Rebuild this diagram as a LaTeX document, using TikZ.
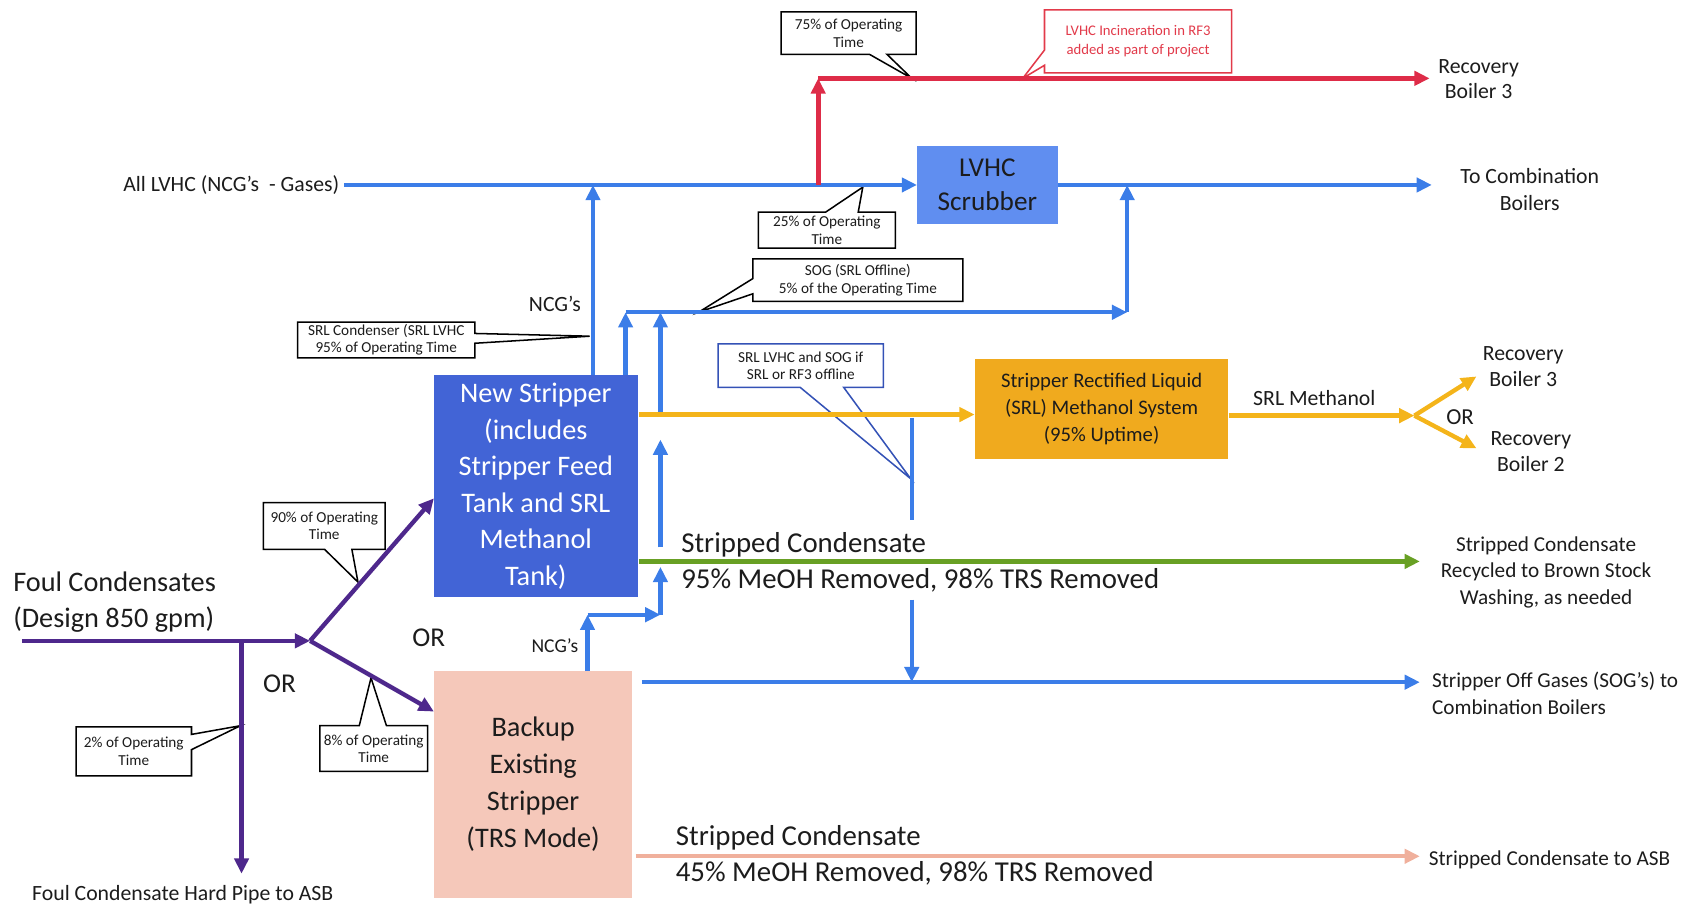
\documentclass[tikz,border=0pt]{standalone}
\usepackage{fontspec}
\setmainfont{Carlito}
\usetikzlibrary{arrows.meta,shapes.callouts,calc}

\definecolor{purp}{RGB}{78,40,140}
\definecolor{flowblue}{RGB}{59,125,232}
\definecolor{flowred}{RGB}{222,44,72}
\definecolor{flowgold}{RGB}{244,180,26}
\definecolor{flowgreen}{RGB}{104,160,36}
\definecolor{flowpink}{RGB}{240,176,156}
\definecolor{nsfill}{RGB}{66,100,214}
\definecolor{bkfill}{RGB}{245,200,186}
\definecolor{scrfill}{RGB}{96,142,240}
\definecolor{srlfill}{RGB}{240,170,30}
\definecolor{ink}{RGB}{28,28,28}
\definecolor{noteblue}{RGB}{52,82,182}
\definecolor{notered}{RGB}{226,58,74}

\begin{document}
\begin{tikzpicture}[x=1pt,y=-1pt,
  every node/.style={text=ink},
  tipA/.style={-{Triangle[length=14pt,width=13pt]}},
  pipeline/.style={line width=4pt},
  purpflow/.style={pipeline,draw=purp,tipA},
  blueflow/.style={pipeline,draw=flowblue,tipA},
  blueplain/.style={pipeline,draw=flowblue},
  redflow/.style={line width=4.5pt,draw=flowred,tipA},
  goldflow/.style={pipeline,draw=flowgold,tipA},
  greenflow/.style={pipeline,draw=flowgreen,tipA},
  pinkflow/.style={pipeline,draw=flowpink,tipA},
  procbox/.style={rectangle,inner sep=0pt,align=center},
  calloutbox/.style={rectangle callout,draw=black,fill=white,line width=1.4pt,
    align=center,inner sep=0pt,font=\fontsize{14}{16}\selectfont},
  lbl/.style={inner sep=0pt,align=center},
]
\path[use as bounding box] (0,0) rectangle (1568,833);

% ---------- process boxes ----------
\node[procbox,fill=nsfill,text=white,minimum width=187pt,minimum height=204pt,
  font=\fontsize{26}{33.5}\selectfont] (ns) at (492.5,447)
  {New Stripper\\(includes\\Stripper Feed\\Tank and SRL\\Methanol\\Tank)};
\node[procbox,fill=bkfill,minimum width=182pt,minimum height=208pt,
  font=\fontsize{26}{34}\selectfont] (bk) at (490,721)
  {Backup\\Existing\\Stripper\\(TRS Mode)};
\node[procbox,fill=scrfill,minimum width=129pt,minimum height=72pt,
  font=\fontsize{25}{31}\selectfont] (scr) at (907.5,170) {LVHC\\Scrubber};
\node[procbox,fill=srlfill,minimum width=233pt,minimum height=92pt,
  font=\fontsize{19}{25}\selectfont] (srl) at (1012.5,376)
  {Stripper Rectified Liquid\\(SRL) Methanol System\\(95\% Uptime)};

% ---------- callouts ----------
\node[calloutbox,minimum width=124pt,minimum height=39pt,
  callout absolute pointer={(838,72)},callout pointer width=16pt] (n75) at (780,30.5)
  {75\% of Operating\\Time};
\node[calloutbox,draw=notered,text=notered,font=\fontsize{13.5}{17}\selectfont,
  minimum width=172pt,minimum height=58pt,
  callout absolute pointer={(940,72)},callout pointer width=14pt] (nrf3) at (1046,38)
  {LVHC Incineration in RF3\\added as part of project};
\node[calloutbox,minimum width=126pt,minimum height=33pt,
  callout absolute pointer={(793,172)},callout pointer width=30pt] (n25) at (760,211.5)
  {25\% of Operating\\Time};
\node[calloutbox,minimum width=193pt,minimum height=39pt,
  callout absolute pointer={(642,287)},callout pointer width=14pt] (nsog) at (788.5,257.5)
  {SOG (SRL Offline)\\5\% of the Operating Time};
\node[calloutbox,minimum width=163pt,minimum height=33pt,
  callout absolute pointer={(542,309)},callout pointer width=9pt] (nsrlc) at (355,312.5)
  {SRL Condenser (SRL LVHC\\95\% of Operating Time};
\node[calloutbox,draw=noteblue,minimum width=152pt,minimum height=40pt,
  callout absolute pointer={(837,440)},callout pointer width=40pt] (nsrlv) at (736,336)
  {SRL LVHC and SOG if\\SRL or RF3 offline};
\node[calloutbox,minimum width=112pt,minimum height=43pt,
  callout absolute pointer={(329,535)},callout pointer width=25pt] (n90) at (298,483.5)
  {90\% of Operating\\Time};
\node[calloutbox,minimum width=99pt,minimum height=42pt,
  callout absolute pointer={(341,623)},callout pointer width=25pt] (n8) at (343.5,688)
  {8\% of Operating\\Time};
\node[calloutbox,minimum width=106pt,minimum height=45pt,
  callout absolute pointer={(221,667)},callout pointer width=14pt] (n2) at (123,690.5)
  {2\% of Operating\\Time};

% ---------- text labels ----------
\node[lbl,align=left,anchor=west,font=\fontsize{26}{33}\selectfont] (foul) at (12,553.5)
  {Foul Condensates\\(Design 850 gpm)};
\node[lbl,font=\fontsize{20}{24}\selectfont] (hardpipe) at (168,822) {Foul Condensate Hard Pipe to ASB};
\node[lbl,font=\fontsize{25}{30}\selectfont] (orA) at (257,628) {OR};
\node[lbl,font=\fontsize{25}{30}\selectfont] (orB) at (394,586) {OR};
\node[lbl,font=\fontsize{20}{24}\selectfont,anchor=east] (alllvhc) at (312,170) {All LVHC (NCG’s \ - Gases)};
\node[lbl,font=\fontsize{20}{23.5}\selectfont] (rb3top) at (1359,72.5) {Recovery\\Boiler 3};
\node[lbl,font=\fontsize{20}{25}\selectfont] (tocomb) at (1406,174.5) {To Combination\\Boilers};
\node[lbl,font=\fontsize{20}{24}\selectfont] (ncgA) at (510,279) {NCG’s};
\node[lbl,font=\fontsize{18}{22}\selectfont] (ncgB) at (510,593) {NCG’s};
\node[lbl,font=\fontsize{20}{24}\selectfont] (srlmeth) at (1208,366) {SRL Methanol};
\node[lbl,font=\fontsize{21}{25}\selectfont] (orC) at (1342,383) {OR};
\node[lbl,font=\fontsize{20}{24}\selectfont] (rb3) at (1400,337) {Recovery\\Boiler 3};
\node[lbl,font=\fontsize{20}{24}\selectfont] (rb2) at (1407,415) {Recovery\\Boiler 2};
\node[lbl,anchor=west,font=\fontsize{26.5}{32}\selectfont] (scA) at (626,501) {Stripped Condensate};
\node[lbl,anchor=west,font=\fontsize{26.5}{32}\selectfont] (scAb) at (626,533) {95\% MeOH Removed, 98\% TRS Removed};
\node[lbl,anchor=west,font=\fontsize{26.5}{32}\selectfont] (scB) at (621,770) {Stripped Condensate};
\node[lbl,anchor=west,font=\fontsize{26.5}{32}\selectfont] (scBb) at (621,803) {45\% MeOH Removed, 98\% TRS Removed};
\node[lbl,font=\fontsize{19.5}{24.5}\selectfont] (bsw) at (1421,526)
  {Stripped Condensate\\Recycled to Brown Stock\\Washing, as needed};
\node[lbl,align=left,anchor=west,font=\fontsize{19.5}{25}\selectfont] (sogcb) at (1316,637.5)
  {Stripper Off Gases (SOG’s) to\\Combination Boilers};
\node[lbl,anchor=west,font=\fontsize{19.5}{24}\selectfont] (asb) at (1313,790) {Stripped Condensate to ASB};

% ---------- junctions ----------
\coordinate (fcin) at (20,589);
\coordinate (fork) at (285,589);
\coordinate (bypass) at (222,589);
\coordinate (nsin) at (ns.west |- 0,458);
\coordinate (bkin) at (bk.west |- 0,654);
\coordinate (hpout) at (222,803);
\coordinate (ncgtee) at (545,170);
\coordinate (redtee) at (752,170);
\coordinate (redcorner) at (752,72);
\coordinate (rb3out) at (1314,72);
\coordinate (combout) at (1316,170);
\coordinate (sogleft) at (575,287);
\coordinate (sogcorner) at (1036,287);
\coordinate (sogrise) at (1036,170);
\coordinate (sogjoin) at (607,287);
\coordinate (gapA) at (607,379);
\coordinate (gapB) at (607,404);
\coordinate (gapC) at (607,503);
\coordinate (gapD) at (607,521);
\coordinate (bkncg) at (540,565);
\coordinate (bkstep) at (607,565);
\coordinate (dropA) at (838,384);
\coordinate (dropB) at (838,478);
\coordinate (dropC) at (838,551);
\coordinate (sogmerge) at (838,627);
\coordinate (sogstart) at (590,627);
\coordinate (sogout) at (1305,627);
\coordinate (split) at (1300,382);
\coordinate (rb3in) at (1357,346);
\coordinate (rb2in) at (1357,412);
\coordinate (bswout) at (1305,516);
\coordinate (asbout) at (1305,787);

% ---------- foul condensate feed ----------
\draw[purpflow] (fcin) -- (fork);
\draw[purpflow] (fork) -- (nsin);
\draw[purpflow] (fork) -- (bkin);
\draw[purpflow] (bypass) -- (hpout);

% ---------- gas lines ----------
\draw[blueflow,shorten <=4pt] (alllvhc.east) -- (scr.west);
\draw[blueflow] (scr.east) -- (combout);
\draw[blueflow] (ns.north -| ncgtee) -- (ncgtee);
\draw[blueflow] (ns.north -| sogleft) -- (sogleft);
\draw[blueflow] (sogleft) -- (sogcorner);
\draw[blueflow] (sogcorner) -- (sogrise);
\draw[blueflow] (gapA) -- (sogjoin);
\draw[blueflow] (gapC) -- (gapB);
\draw[blueflow] (bk.north -| bkncg) -- (bkncg);
\draw[blueflow] (bkncg) -- (bkstep);
\draw[blueflow] (bkstep) -- (gapD);
\draw[blueplain] (dropA) -- (dropB);
\draw[blueflow] (dropC) -- (sogmerge);
\draw[blueflow] (sogstart) -- (sogout);

% ---------- incineration in RF3 ----------
\draw[redflow] (redtee) -- (redcorner);
\draw[redflow] (redcorner) -- (rb3out);

% ---------- liquid lines ----------
\draw[goldflow,shorten <=1pt] (ns.east |- 0,381) -- (srl.west |- 0,381);
\draw[goldflow] (srl.east |- 0,382) -- (split);
\draw[goldflow] (split) -- (rb3in);
\draw[goldflow] (split) -- (rb2in);
\draw[greenflow,shorten <=1pt] (ns.east |- 0,516) -- (bswout);
\draw[pinkflow,shorten <=3pt] (bk.east |- 0,787) -- (asbout);
\end{tikzpicture}
\end{document}
